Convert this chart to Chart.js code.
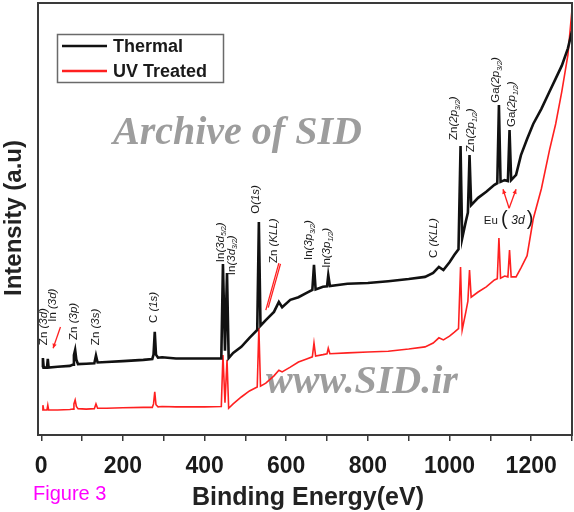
<!DOCTYPE html>
<html>
<head>
<meta charset="utf-8">
<script src="https://cdn.jsdelivr.net/npm/chart.js@4.4.1/dist/chart.umd.min.js"></script>
<style>
  html, body { margin: 0; padding: 0; background: #fff; }
  #wrap { width: 574px; height: 512px; }
</style>
</head>
<body>
<div id="wrap"><canvas id="xpsChart" width="574" height="512"></canvas></div>
<script>
// XPS survey, binding energy (eV) vs intensity (a.u.)
const energy = [2, 4, 6, 14, 16, 18, 40, 70, 78, 80, 83, 86, 90, 110, 130, 134, 138, 160, 200, 250,
  272, 275, 278, 281, 286, 296, 330, 400, 441, 445, 450, 455, 459, 470, 490, 510, 529, 533, 537,
  550, 570, 582, 590, 610, 630, 650, 664, 668, 672, 690, 700, 703, 707, 750, 800, 850, 900, 940, 960,
  974, 985, 1000, 1012, 1022, 1027, 1031, 1040, 1045, 1049, 1053, 1070, 1090, 1110, 1117, 1121, 1125,
  1135, 1143, 1147, 1151, 1163, 1175, 1190, 1205, 1225, 1245, 1260, 1275, 1290, 1300];
const thermal = [15.7, 17.8, 15.6, 15.6, 17.6, 15.6, 15.8, 16.0, 16.3, 18.5, 19.7, 17.4, 16.4, 16.5, 16.6, 18.4, 16.8, 16.9, 17.1, 17.4,
  17.6, 18.6, 23.9, 18.6, 17.9, 18.0, 17.7, 17.7, 17.7, 39.6, 19.5, 37.5, 17.8, 19.0, 20.4, 22.5, 24.3, 49.3, 25.3,
  26.6, 28.5, 30.8, 29.6, 31.3, 31.9, 32.9, 33.6, 39.4, 33.7, 34.3, 34.4, 37.0, 34.5, 35.0, 35.2, 35.6, 36.1, 36.6, 37.5,
  38.9, 38.2, 40.0, 41.7, 43.0, 66.9, 45.5, 49.5, 51.5, 64.8, 53.2, 54.9, 56.3, 57.9, 58.3, 76.4, 58.6,
  59.0, 58.8, 70.6, 59.0, 60.2, 64.8, 68.5, 72.0, 75.5, 79.5, 82.5, 85.5, 89.5, 93.5];
const uvTreated = [5.8, 6.9, 5.8, 5.8, 6.9, 5.8, 5.8, 5.9, 6.0, 7.2, 8.1, 6.6, 6.1, 6.0, 6.1, 7.2, 6.2, 6.2, 6.3, 6.4,
  6.4, 7.2, 10.0, 7.0, 6.5, 6.6, 6.5, 6.5, 6.6, 18.5, 7.5, 17.4, 6.2, 7.2, 8.8, 10.2, 11.1, 24.8, 11.3,
  12.0, 13.7, 15.0, 14.6, 15.7, 16.9, 17.6, 18.1, 21.3, 18.3, 18.6, 18.8, 20.1, 18.8, 19.0, 19.2, 19.4, 19.9, 20.4, 21.3,
  22.5, 22.0, 22.9, 23.8, 24.6, 38.9, 24.3, 28.5, 31.0, 38.2, 31.9, 33.1, 34.3, 35.9, 36.2, 45.6, 36.3,
  36.8, 36.6, 42.8, 36.6, 36.6, 38.7, 41.5, 50.0, 57.0, 66.0, 72.0, 79.5, 88.0, 98.5];
const seriesNames = ['Thermal', 'UV Treated'];
const xTicks = [0, 100, 200, 300, 400, 500, 600, 700, 800, 900, 1000, 1100, 1200, 1300];
const xTickLabels = [0, 200, 400, 600, 800, 1000, 1200];

// peak labels: text (with _{sub}), energy, intensity at the bottom of the text
const peakLabels = [
  { text: 'Zn (3d)', e: 7, at: 20.8 },
  { text: 'In (3d)', e: 29, at: 26.2 },
  { text: 'Zn (3p)', e: 79, at: 22.0 },
  { text: 'Zn (3s)', e: 133, at: 20.8 },
  { text: 'C (1s)', e: 275, at: 25.9 },
  { text: 'In(3d_{5/2})', e: 439, at: 40.0 },
  { text: 'In(3d_{3/2})', e: 466, at: 37.0 },
  { text: 'O(1s)', e: 525, at: 51.2 },
  { text: 'Zn (KLL)', e: 569, at: 39.8 },
  { text: 'In(3p_{3/2})', e: 655, at: 40.5 },
  { text: 'In(3p_{1/2})', e: 699, at: 38.7 },
  { text: 'C (KLL)', e: 962, at: 41.0 },
  { text: 'Zn(2p_{3/2})', e: 1011, at: 68.3 },
  { text: 'Zn(2p_{1/2})', e: 1053, at: 65.5 },
  { text: 'Ga(2p_{3/2})', e: 1114, at: 76.9 },
  { text: 'Ga(2p_{1/2})', e: 1153, at: 71.3 }
];

function drawLabel(ctx, x, y, label, size) {
  ctx.save();
  ctx.translate(x, y);
  ctx.rotate(-Math.PI / 2);
  ctx.textBaseline = 'middle';
  ctx.textAlign = 'left';
  ctx.fillStyle = '#1a1a1a';
  let pos = 0, italic = false;
  label.split(/(_\{[^}]*\})/).filter(Boolean).forEach(part => {
    if (part.startsWith('_{')) {
      const t = part.slice(2, -1);
      ctx.font = `italic ${Math.round(size * 0.62)}px "Liberation Sans"`;
      ctx.fillText(t, pos, size * 0.35);
      pos += ctx.measureText(t).width;
      return;
    }
    let head = part, tail = '';
    if (italic) { head = ''; tail = part; }
    else {
      const k = part.indexOf('(');
      if (k >= 0) { head = part.slice(0, k); tail = part.slice(k); }
    }
    if (head) {
      ctx.font = `${size}px "Liberation Sans"`;
      ctx.fillText(head, pos, 0);
      pos += ctx.measureText(head).width;
    }
    if (tail) {
      italic = true;
      ctx.font = `italic ${size}px "Liberation Sans"`;
      ctx.fillText(tail, pos, 0);
      pos += ctx.measureText(tail).width;
    }
  });
  ctx.restore();
}

function arrowHead(ctx, x0, y0, x1, y1, len) {
  const a = Math.atan2(y1 - y0, x1 - x0);
  ctx.beginPath();
  ctx.moveTo(x1, y1);
  ctx.lineTo(x1 - len * Math.cos(a - 0.45), y1 - len * Math.sin(a - 0.45));
  ctx.lineTo(x1 - len * Math.cos(a + 0.45), y1 - len * Math.sin(a + 0.45));
  ctx.closePath();
  ctx.fill();
}

const backdrop = {
  id: 'backdrop',
  beforeDatasetsDraw(chart) {
    const ctx = chart.ctx;
    ctx.save();
    ctx.fillStyle = '#9d9d9d';
    ctx.font = 'bold italic 40px "Liberation Serif"';
    ctx.textBaseline = 'alphabetic';
    ctx.fillText('Archive of SID', 113, 144);
    ctx.fillText('www.SID.ir', 266, 393);
    ctx.restore();
  },
  afterDraw(chart) {
    const ctx = chart.ctx;
    const { left, right, top, bottom } = chart.chartArea;
    const xs = chart.scales.x, ys = chart.scales.y;
    const px = e => xs.getPixelForValue(e), py = v => ys.getPixelForValue(v);
    ctx.save();

    // frame
    ctx.strokeStyle = '#3a3a3a';
    ctx.lineWidth = 2;
    ctx.strokeRect(left, top, right - left, bottom - top);

    // peak labels
    peakLabels.forEach(l => drawLabel(ctx, px(l.e), py(l.at), l.text, 11.5));

    // red pointers
    ctx.strokeStyle = '#ff2020';
    ctx.fillStyle = '#ff2020';
    ctx.lineWidth = 1.3;
    const zx0 = px(47), zy0 = py(25.0), zx1 = px(29), zy1 = py(20.1);
    ctx.beginPath(); ctx.moveTo(zx0, zy0); ctx.lineTo(zx1, zy1); ctx.stroke();
    arrowHead(ctx, zx0, zy0, zx1, zy1, 5);
    ctx.beginPath();
    ctx.moveTo(px(582), py(39.8)); ctx.lineTo(px(550), py(28.9));
    ctx.moveTo(px(586), py(39.6)); ctx.lineTo(px(556), py(29.5));
    ctx.stroke();
    const ex = px(1146), ey = py(52.5);
    [[1131, 56.9], [1163, 56.9]].forEach(([e, v]) => {
      ctx.beginPath(); ctx.moveTo(ex, ey); ctx.lineTo(px(e), py(v)); ctx.stroke();
      arrowHead(ctx, ex, ey, px(e), py(v), 5);
    });

    // Eu (3d) label
    ctx.fillStyle = '#1a1a1a';
    ctx.textBaseline = 'middle';
    ctx.textAlign = 'left';
    let x = px(1084);
    const y = py(49.8);
    ctx.font = '11.5px "Liberation Sans"';
    ctx.fillText('Eu', x, y + 1); x += ctx.measureText('Eu ').width;
    ctx.font = '20px "Liberation Sans"';
    ctx.fillText('(', x, y); x += ctx.measureText('( ').width - 2;
    ctx.font = 'italic 12px "Liberation Sans"';
    ctx.fillText('3d', x, y + 1); x += ctx.measureText('3d').width + 2;
    ctx.font = '20px "Liberation Sans"';
    ctx.fillText(')', x, y);

    // legend
    ctx.strokeStyle = '#6a6a6a';
    ctx.lineWidth = 1.5;
    ctx.strokeRect(57.5, 34.5, 166, 48);
    const colors = ['#111111', '#ff2020'];
    seriesNames.forEach((name, i) => {
      const ly = 46 + i * 25;
      ctx.strokeStyle = colors[i];
      ctx.lineWidth = 2.5;
      ctx.beginPath(); ctx.moveTo(62, ly); ctx.lineTo(107, ly); ctx.stroke();
      ctx.fillStyle = '#1a1a1a';
      ctx.font = 'bold 18px "Liberation Sans"';
      ctx.fillText(name, 113, ly + 1);
    });

    // axis titles
    ctx.fillStyle = '#222';
    ctx.textAlign = 'center';
    ctx.font = 'bold 25px "Liberation Sans"';
    ctx.fillText('Binding Energy(eV)', 308, 498);
    ctx.save();
    ctx.translate(14, 218);
    ctx.rotate(-Math.PI / 2);
    ctx.font = 'bold 24px "Liberation Sans"';
    ctx.fillText('Intensity (a.u)', 0, 0);
    ctx.restore();

    ctx.textAlign = 'left';
    ctx.fillStyle = '#ff00ff';
    ctx.font = '20px "Liberation Sans"';
    ctx.fillText('Figure 3', 33, 494);
    ctx.restore();
  }
};

new Chart(document.getElementById('xpsChart'), {
  type: 'line',
  data: {
    datasets: [
      {
        label: seriesNames[0],
        data: energy.map((e, i) => ({ x: e, y: thermal[i] })),
        borderColor: '#111111',
        borderWidth: 2.6,
        pointRadius: 0,
        tension: 0
      },
      {
        label: seriesNames[1],
        data: energy.map((e, i) => ({ x: e, y: uvTreated[i] })),
        borderColor: '#ff2020',
        borderWidth: 1.6,
        pointRadius: 0,
        tension: 0
      }
    ]
  },
  options: {
    responsive: false,
    animation: false,
    layout: { padding: { top: 3, right: 2, left: 0, bottom: 0 } },
    plugins: { legend: { display: false }, tooltip: { enabled: false } },
    scales: {
      x: {
        type: 'linear',
        min: -8,
        max: 1300,
        afterBuildTicks: s => { s.ticks = xTicks.map(v => ({ value: v })); },
        afterFit: s => { s.height = 77; s.paddingLeft = 0; s.paddingRight = 0; },
        border: { display: true, color: '#3a3a3a', width: 2 },
        grid: { display: true, drawOnChartArea: false, drawTicks: true, tickLength: 6, color: '#3a3a3a', lineWidth: 1.5 },
        ticks: {
          autoSkip: false,
          maxRotation: 0,
          padding: 12,
          color: '#1a1a1a',
          font: { family: '"Liberation Sans"', size: 23, weight: 'bold' },
          callback: v => xTickLabels.includes(v) ? String(v) : ''
        }
      },
      y: {
        min: 0,
        max: 100,
        afterFit: s => { s.width = 38; },
        border: { display: true, color: '#3a3a3a', width: 2 },
        grid: { display: false },
        ticks: { display: false }
      }
    }
  },
  plugins: [backdrop]
});
</script>
</body>
</html>
